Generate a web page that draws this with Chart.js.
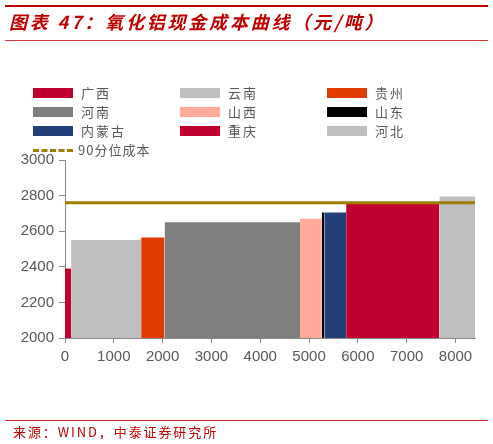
<!DOCTYPE html>
<html><head><meta charset="utf-8">
<script src="https://cdn.jsdelivr.net/npm/chart.js@4/dist/chart.umd.min.js"></script>
<style>
html,body{margin:0;padding:0;background:#fff;}
body{width:493px;height:444px;position:relative;overflow:hidden;font-family:"Noto Sans CJK SC",sans-serif;}
#topline{position:absolute;left:5px;top:5px;width:483px;height:2px;background:#C00000;}
#title{position:absolute;left:9px;top:9px;font-size:18px;font-weight:bold;font-style:italic;color:#C00000;letter-spacing:2.8px;line-height:24px;white-space:nowrap;}
#tline{position:absolute;left:5px;top:40px;width:483px;height:1px;background:#D04040;}
#fline{position:absolute;left:5px;top:420px;width:483px;height:1px;background:#D02020;}
#foot{position:absolute;left:13px;top:423px;font-size:13px;color:#C00000;letter-spacing:1.9px;line-height:18px;white-space:nowrap;}
#chartwrap{position:absolute;left:0;top:0;width:493px;height:444px;}
.lg{position:absolute;font-size:13px;color:#595959;letter-spacing:2px;line-height:14px;white-space:nowrap;}
.sw{position:absolute;width:40px;height:10px;}
</style></head>
<body>
<div id="chartwrap"><canvas id="c" width="493" height="444"></canvas></div>
<div id="topline"></div>
<div id="title">图表 47：氧化铝现金成本曲线（元/吨）</div>
<div id="tline"></div>
<div id="legend"></div>
<div id="fline"></div>
<div id="foot">来源：WIND，中泰证券研究所</div>
<script>
const regions = ['广西','云南','贵州','河南','山西','山东','内蒙古','重庆','河北'];
const capacity = [125, 1435, 480, 2775, 445, 55, 445, 1910, 730];
const cost = [2390, 2550, 2565, 2650, 2670, 2705, 2705, 2755, 2795];
const colors = ['#C0002F','#BFBFBF','#E03C00','#7F7F7F','#FFAA99','#000000','#213F78','#C0002F','#BFBFBF'];
const p90Label = '90分位成本';
const p90Cost = 2760;
const xTicks = [0,1000,2000,3000,4000,5000,6000,7000,8000];
const yTicks = [2000,2200,2400,2600,2800,3000];

const datasets = [];
let cum = 0;
regions.forEach((r, i) => {
  const x0 = cum, x1 = cum + capacity[i];
  cum = x1;
  datasets.push({
    label: r,
    data: [{x: x0, y: cost[i]}, {x: x1, y: cost[i]}],
    showLine: true, fill: 'start',
    backgroundColor: colors[i], borderColor: colors[i], borderWidth: 0,
    pointRadius: 0, order: 2
  });
});
const xMax = cum;
datasets.push({
  label: p90Label,
  data: [{x: 0, y: p90Cost}, {x: xMax, y: p90Cost}],
  showLine: true, fill: false, borderColor: '#A07E00', borderWidth: 3,
  pointRadius: 0, order: 1
});

// legend
const lg = document.getElementById('legend');
const colX = [33, 180, 327], rowY = [88, 107, 126];
regions.forEach((r, i) => {
  const cx = colX[i % 3], ry = rowY[Math.floor(i / 3)];
  const sw = document.createElement('div');
  sw.className = 'sw'; sw.style.left = cx + 'px'; sw.style.top = ry + 'px'; sw.style.background = colors[i];
  lg.appendChild(sw);
  const t = document.createElement('div');
  t.className = 'lg'; t.textContent = r; t.style.left = (cx + 48) + 'px'; t.style.top = (ry - 2) + 'px';
  lg.appendChild(t);
});
const dl = document.createElement('div');
dl.style.cssText = 'position:absolute;left:33px;top:149px;width:40px;height:0;border-top:3px dashed #A07E00;';
lg.appendChild(dl);
const dt = document.createElement('div');
dt.className = 'lg'; dt.textContent = p90Label; dt.style.left = '78px'; dt.style.top = '143px'; dt.style.letterSpacing = '1px';
lg.appendChild(dt);

const tickFont = {family: '"Liberation Sans", Arial, sans-serif', size: 15};
new Chart(document.getElementById('c'), {
  type: 'scatter',
  data: {datasets},
  options: {
    responsive: false, animation: false, devicePixelRatio: 1,
    layout: {padding: {left: 0, top: 160, right: 18, bottom: 76}},
    plugins: {legend: {display: false}, tooltip: {enabled: false}, title: {display: false}},
    scales: {
      x: {
        type: 'linear', min: 0, max: xMax,
        afterBuildTicks: s => { s.ticks = xTicks.map(v => ({value: v})); },
        afterFit: s => { s.height = 30; },
        ticks: {color: '#595959', font: tickFont, padding: 5, maxRotation: 0, autoSkip: false, callback: v => String(v)},
        grid: {display: true, drawOnChartArea: false, drawTicks: true, tickLength: 5, color: '#898989'},
        border: {display: true, color: '#898989', width: 1}
      },
      y: {
        type: 'linear', min: 2000, max: 3000,
        afterBuildTicks: s => { s.ticks = yTicks.map(v => ({value: v})); },
        afterFit: s => { s.width = 65; },
        ticks: {color: '#595959', font: tickFont, padding: 5, callback: v => String(v)},
        grid: {display: true, drawOnChartArea: false, drawTicks: true, tickLength: 6, color: '#898989'},
        border: {display: true, color: '#898989', width: 1}
      }
    }
  }
});
</script>
</body></html>
